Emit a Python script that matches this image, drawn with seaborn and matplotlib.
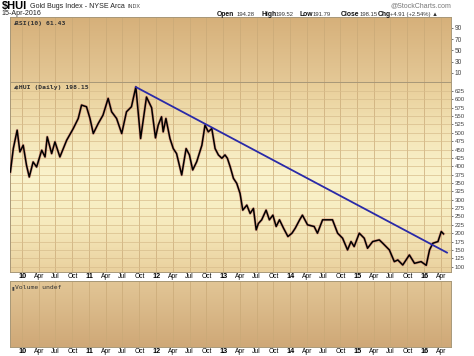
import numpy as np
import pandas as pd
import seaborn as sns
import matplotlib.pyplot as plt
from matplotlib.colors import LinearSegmentedColormap

# price path of $HUI (date, close)
price_dates = ['2009-10-28', '2009-11-13', '2009-12-04', '2009-12-19', '2010-01-06', '2010-01-24',
               '2010-02-08', '2010-03-01', '2010-03-20', '2010-04-17', '2010-05-05', '2010-05-17',
               '2010-06-10', '2010-06-28', '2010-07-25', '2010-08-31', '2010-10-06', '2010-11-02',
               '2010-11-20', '2010-12-17', '2011-01-05', '2011-01-23', '2011-02-19', '2011-03-17',
               '2011-04-14', '2011-05-03', '2011-05-30', '2011-06-27', '2011-07-23', '2011-08-19',
               '2011-09-12', '2011-10-08', '2011-11-09', '2011-12-07', '2011-12-28', '2012-01-12',
               '2012-01-30', '2012-02-08', '2012-02-23', '2012-03-16', '2012-04-03', '2012-04-21',
               '2012-05-19', '2012-06-12', '2012-06-30', '2012-07-18', '2012-08-09', '2012-09-06',
               '2012-09-23', '2012-10-11', '2012-10-30', '2012-11-17', '2012-12-05', '2012-12-24',
               '2013-01-10', '2013-01-23', '2013-02-07', '2013-02-25', '2013-03-15', '2013-04-02',
               '2013-04-17', '2013-05-09', '2013-05-27', '2013-06-14', '2013-06-29', '2013-07-11',
               '2013-07-29', '2013-08-22', '2013-09-09', '2013-09-28', '2013-10-16', '2013-11-03',
               '2013-11-25', '2013-12-19', '2014-01-10', '2014-01-28', '2014-02-21', '2014-03-08',
               '2014-04-05', '2014-05-11', '2014-05-29', '2014-06-26', '2014-08-19', '2014-09-16',
               '2014-10-13', '2014-11-09', '2014-11-28', '2014-12-15', '2015-01-12', '2015-02-08',
               '2015-02-26', '2015-03-26', '2015-05-01', '2015-05-20', '2015-06-25', '2015-07-22',
               '2015-08-10', '2015-09-06', '2015-10-12', '2015-11-09', '2015-12-15', '2016-01-12',
               '2016-01-30', '2016-02-17', '2016-03-16', '2016-04-03', '2016-04-15']
price_values = [383, 453, 508, 443, 463, 403,
                368, 413, 398, 448, 428, 488,
                438, 473, 428, 478, 513, 543,
                583, 578, 543, 498, 528, 553,
                603, 563, 543, 498, 563, 578,
                637, 483, 607, 575, 485, 523,
                548, 503, 543, 483, 453, 438,
                374, 453, 434, 389, 414, 463,
                523, 503, 513, 453, 434, 424,
                434, 424, 399, 364, 349, 319,
                269, 284, 259, 274, 210, 229,
                240, 269, 240, 254, 220, 240,
                215, 190, 200, 215, 240, 254,
                225, 220, 200, 240, 240, 200,
                185, 150, 175, 160, 200, 185,
                155, 175, 180, 170, 150, 115,
                120, 105, 135, 110, 115, 104,
                150, 170, 175, 205, 198]

trend_dates = ['2011-09-12', '2016-05-04']
trend_values = [637, 142]

quarter_ticks = pd.date_range('2010-01-01', '2016-04-01', freq='QS')
price_ticks = list(range(100, 626, 25))
rsi_ticks = [10, 30, 50, 70, 90]

df = pd.DataFrame({'date': pd.to_datetime(price_dates), 'close': price_values})
trend = pd.DataFrame({'date': pd.to_datetime(trend_dates), 'value': trend_values})

plt.rcParams['font.family'] = ['Liberation Sans', 'DejaVu Sans']
fig = plt.figure(figsize=(4.74, 3.56), dpi=100)
fig.patch.set_facecolor('white')

left, width = 10 / 474, 441 / 474
ax_rsi = fig.add_axes([left, 1 - 82 / 356, width, 65 / 356])
ax = fig.add_axes([left, 1 - 272 / 356, width, 190 / 356])
ax_vol = fig.add_axes([left, 1 - 347 / 356, width, 66 / 356])

xmin = pd.Timestamp('2009-10-26')
xmax = pd.Timestamp('2016-05-26')


def gradient(a, colors):
    cmap = LinearSegmentedColormap.from_list('g', colors)
    a.imshow(np.linspace(0, 1, 200).reshape(-1, 1), cmap=cmap, aspect='auto',
             extent=[0, 1, 0, 1], transform=a.transAxes, zorder=0)


def style(a):
    a.set_xlim(xmin, xmax)
    a.set_xticks(quarter_ticks)
    a.grid(axis='x', color='#c9a977', lw=0.5, zorder=1)
    a.set_axisbelow(True)
    for s in a.spines.values():
        s.set_color('#a89878')
        s.set_linewidth(0.7)
    a.yaxis.tick_right()
    a.tick_params(axis='y', labelsize=4.4, colors='#444444', length=1.5, width=0.5, pad=1)
    a.tick_params(axis='x', length=0, labelsize=4.8, pad=0.8)
    a.set_xlabel('')
    a.set_ylabel('')


def date_labels(a):
    labels = []
    for d in quarter_ticks:
        labels.append(d.strftime('%y') if d.month == 1 else d.strftime('%b'))
    a.set_xticklabels(labels)
    for t, d in zip(a.get_xticklabels(), quarter_ticks):
        if d.month == 1:
            t.set_fontweight('bold')
            t.set_fontsize(5.2)


# RSI panel
gradient(ax_rsi, ['#d6b07a', '#e4c896'])
style(ax_rsi)
ax_rsi.set_ylim(-6, 109)
ax_rsi.set_yticks(rsi_ticks)
ax_rsi.tick_params(axis='y', labelsize=4.8)
ax_rsi.set_xticklabels([])
ax_rsi.text(0.004, 0.94, '▲', transform=ax_rsi.transAxes, fontsize=3.5, color='#444444', va='top')
ax_rsi.text(0.012, 0.94, 'RSI(10) 61.43', transform=ax_rsi.transAxes, fontsize=4.6,
            family='DejaVu Sans Mono', fontweight='bold', color='#333333', va='top')

# price panel
gradient(ax, ['#e8cd98', '#f3e4b6', '#faf3cc', '#f6eabd', '#ead19e'])
sns.lineplot(data=df, x='date', y='close', ax=ax, color='#c05050', lw=2.0, alpha=0.45, zorder=3)
sns.lineplot(data=df, x='date', y='close', ax=ax, color='black', lw=1.1, zorder=4)
sns.lineplot(data=trend, x='date', y='value', ax=ax, color='#2a2aa8', lw=1.3, zorder=5)
style(ax)
ax.set_ylim(84, 652)
ax.set_yticks(price_ticks)
ax.grid(axis='y', color='#d8bd8c', lw=0.5, zorder=1)
date_labels(ax)
ax.text(0.004, 0.985, '▲', transform=ax.transAxes, fontsize=3.5, color='#444444', va='top')
ax.text(0.012, 0.985, '$HUI (Daily) 198.15', transform=ax.transAxes, fontsize=4.6,
        family='DejaVu Sans Mono', fontweight='bold', color='#333333', va='top')

# volume panel
gradient(ax_vol, ['#e2c696', '#cfa877'])
style(ax_vol)
ax_vol.set_ylim(0, 1)
ax_vol.set_yticks([])
date_labels(ax_vol)
ax_vol.text(0.004, 0.94, '▮', transform=ax_vol.transAxes, fontsize=3.5, color='#444444', va='top')
ax_vol.text(0.012, 0.94, 'Volume undef', transform=ax_vol.transAxes, fontsize=4.6,
            family='DejaVu Sans Mono', color='#333333', va='top')

# header
fig.text(2 / 474, 1 - 6 / 356, '$HUI', fontsize=8, fontweight='bold', va='center')
fig.text(30 / 474, 1 - 6 / 356, 'Gold Bugs Index - NYSE Arca', fontsize=5.1, va='center', color='#222222')
fig.text(127 / 474, 1 - 6 / 356, 'INDX', fontsize=3.9, va='center', color='#444444')
fig.text(2 / 474, 1 - 13.5 / 356, '15-Apr-2016', fontsize=5.1, va='center', color='#222222')
fig.text(451 / 474, 1 - 6 / 356, '@StockCharts.com', fontsize=5, va='center', ha='right', color='#777777')

hdr = [(217, 'Open', True), (237, '194.28', False), (261, 'High', True), (276, '199.52', False),
       (300, 'Low', True), (313, '191.79', False), (341, 'Close', True), (360, '198.15', False),
       (378, 'Chg', True), (390, '+4.91 (+2.54%) ▲', False)]
for x, s, b in hdr:
    fig.text(x / 474, 1 - 14.5 / 356, s, fontsize=4.9 if b else 4.2,
             fontweight='bold' if b else 'normal', va='center', color='#111111' if b else '#333333')

fig.savefig('out.png', dpi=100)
